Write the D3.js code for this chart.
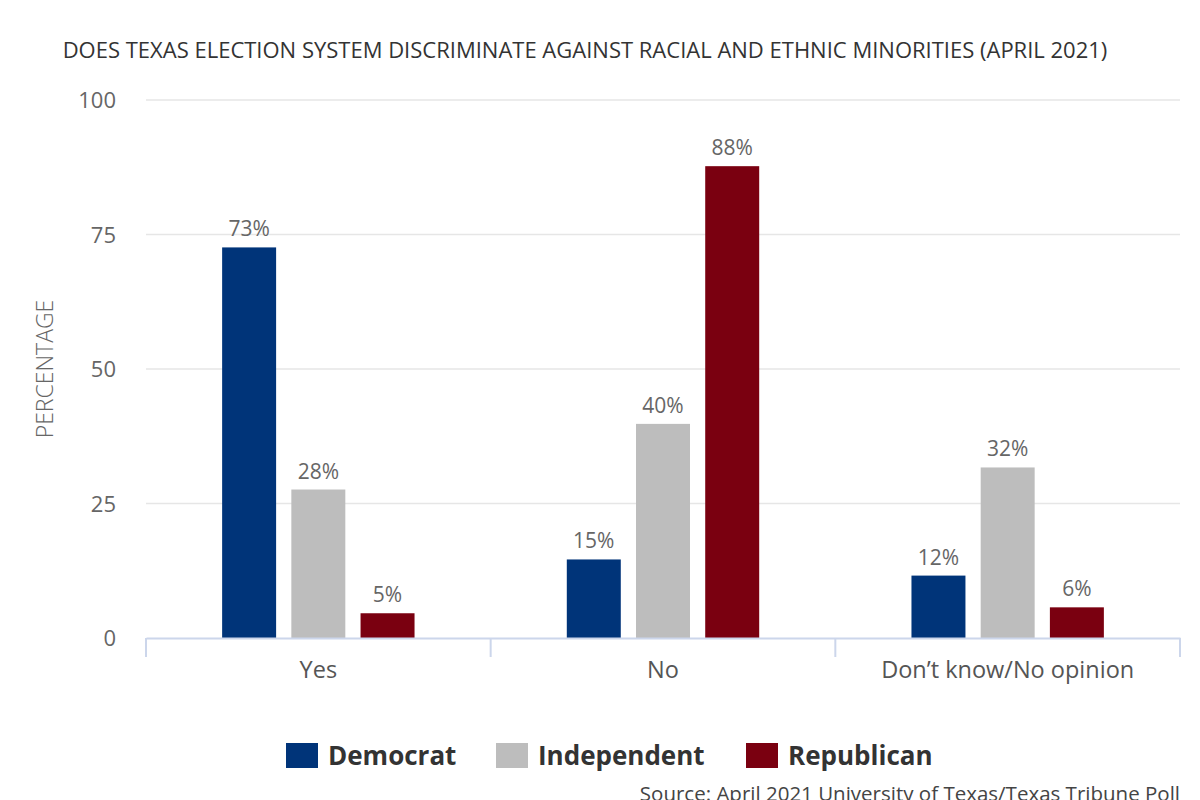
<!DOCTYPE html>
<html>
<head>
<meta charset="utf-8">
<script src="https://cdn.jsdelivr.net/npm/d3@7"></script>
<style>
  body { margin: 0; background: #fff; }
  text { font-family: "Open Sans", sans-serif; }
</style>
</head>
<body>
<div id="chart"></div>
<script>
const categories = ["Yes", "No", "Don\u2019t know/No opinion"]
const seriesNames = ["Democrat", "Independent", "Republican"]
const colors = ["#003479", "#bdbdbd", "#7a0010"]
// values; labels are rounded
const democrat = [72.6, 14.6, 11.6]
const independent = [27.6, 39.8, 31.7]
const republican = [4.6, 87.7, 5.7]
const yTicks = [0, 25, 50, 75, 100]

const width = 1200
const height = 800
const plotLeft = 146, plotRight = 1180, plotTop = 100, plotBottom = 638

const svg = d3.select("#chart").append("svg")
    .attr("width", width)
    .attr("height", height)

const series = [democrat, independent, republican]

const x = d3.scaleBand().domain(categories).range([plotLeft, plotRight]).padding(0)
const xInner = d3.scaleBand().domain(seriesNames).range([0, x.bandwidth()])
    .paddingInner(0.22).paddingOuter(1.1)
const y = d3.scaleLinear().domain([0, 100]).range([plotBottom, plotTop])

// title
svg.append("text")
    .attr("x", 585).attr("y", 58)
    .attr("text-anchor", "middle")
    .attr("fill", "#333")
    .style("font-size", "22px")
    .text("DOES TEXAS ELECTION SYSTEM DISCRIMINATE AGAINST RACIAL AND ETHNIC MINORITIES (APRIL 2021)")

// grid
svg.append("g")
    .selectAll("line")
    .data(yTicks.filter(d => d > 0))
    .enter()
    .append("line")
    .attr("x1", plotLeft).attr("x2", plotRight)
    .attr("y1", d => y(d)).attr("y2", d => y(d))
    .attr("stroke", "#e6e6e6")
    .attr("stroke-width", 1.5)

// y axis
const yAxis = svg.append("g")
    .attr("transform", `translate(${plotLeft},0)`)
    .call(d3.axisLeft(y).tickValues(yTicks).tickSize(0).tickPadding(30))
yAxis.select(".domain").remove()
yAxis.selectAll("text")
    .attr("fill", "#666")
    .style("font-size", "22px")
    .attr("dy", "0.35em")

svg.append("text")
    .attr("transform", `translate(53,${(plotTop + plotBottom) / 2}) rotate(-90)`)
    .attr("text-anchor", "middle")
    .attr("fill", "#666")
    .style("font-size", "23px")
    .style("font-weight", "300")
    .text("PERCENTAGE")

// bars
const groups = svg.append("g")
    .selectAll("g")
    .data(categories)
    .enter()
    .append("g")
    .attr("transform", d => `translate(${x(d)},0)`)

groups.selectAll("rect")
    .data((c, i) => seriesNames.map((s, j) => ({ s: s, v: series[j][i], color: colors[j] })))
    .enter()
    .append("rect")
    .attr("x", d => xInner(d.s))
    .attr("width", xInner.bandwidth())
    .attr("y", d => y(d.v))
    .attr("height", d => y(0) - y(d.v))
    .attr("fill", d => d.color)

groups.selectAll(".lbl")
    .data((c, i) => seriesNames.map((s, j) => ({ s: s, v: series[j][i] })))
    .enter()
    .append("text")
    .attr("class", "lbl")
    .attr("x", d => xInner(d.s) + xInner.bandwidth() / 2)
    .attr("y", d => y(d.v) - 11)
    .attr("text-anchor", "middle")
    .attr("fill", "#666")
    .style("font-size", "21px")
    .text(d => Math.round(d.v) + "%")

// x axis
const xAxis = svg.append("g")
    .attr("transform", `translate(0,${plotBottom})`)
    .call(d3.axisBottom(x).tickSize(0).tickPadding(23))
xAxis.select(".domain").attr("stroke", "#ccd6eb").attr("stroke-width", 2)
xAxis.selectAll("text")
    .attr("fill", "#555")
    .style("font-size", "23.5px")
    .attr("dy", "0.71em")
const bounds = categories.map(c => x(c)).concat([plotRight])
xAxis.selectAll(".bound")
    .data(bounds)
    .enter()
    .append("line")
    .attr("class", "bound")
    .attr("x1", d => d).attr("x2", d => d)
    .attr("y1", 0).attr("y2", 19)
    .attr("stroke", "#ccd6eb")
    .attr("stroke-width", 2)

// legend
const legendX = [286, 496, 746]
const legend = svg.append("g")
    .selectAll("g")
    .data(seriesNames)
    .enter()
    .append("g")
    .attr("transform", (d, i) => `translate(${legendX[i]},743)`)
legend.append("rect")
    .attr("width", 32).attr("height", 25)
    .attr("fill", (d, i) => colors[i])
legend.append("text")
    .attr("x", 42).attr("y", 22)
    .attr("fill", "#333")
    .style("font-size", "26px")
    .style("font-weight", "bold")
    .text(d => d)

// source
svg.append("text")
    .attr("x", 1180).attr("y", 801)
    .attr("text-anchor", "end")
    .attr("fill", "#444")
    .style("font-size", "20.5px")
    .text("Source: April 2021 University of Texas/Texas Tribune Poll")
</script>
</body>
</html>
